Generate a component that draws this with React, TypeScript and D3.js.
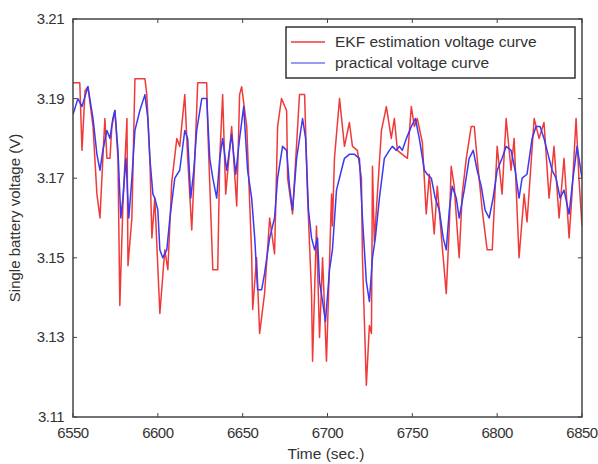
import React from "react";
import * as d3 from "d3";

// EKF estimated voltage (red)
const ekfTime = [
  6550, 6554, 6555.3, 6557.1, 6558.8, 6561.8, 6564.1, 6565.9, 6567.6, 6568.8, 6570, 6571.8, 6572.9, 6574.7,
  6576.5, 6577.6, 6579.4, 6581.8, 6582.4, 6584.7, 6586.5, 6592.4, 6593.5, 6595.3, 6596.5, 6598.2, 6601.2,
  6604.1, 6605.9, 6608.2, 6611.2, 6612.9, 6615.9, 6617.6, 6620, 6621.8, 6623.5, 6628.8, 6629.4, 6632.4,
  6635.3, 6636.5, 6638.2, 6640, 6643.5, 6646.5, 6648.2, 6649.4, 6652.4, 6655.3, 6655.9, 6658.2, 6660,
  6662.9, 6665.9, 6668.8, 6670.6, 6672.9, 6675.9, 6676.5, 6679.4, 6683.5, 6686.5, 6688.2, 6690.6, 6691.2,
  6693.5, 6695.3, 6697.1, 6699.4, 6702.4, 6702.9, 6704.1, 6707.1, 6710, 6712.9, 6714.7, 6717.6, 6720,
  6720.6, 6722.9, 6724.7, 6725.9, 6726.5, 6727.6, 6729.4, 6731.8, 6734.7, 6737.6, 6739.4, 6741.2, 6744.1,
  6747.1, 6749.4, 6751.2, 6752.9, 6755.9, 6758.2, 6760, 6762.9, 6764.7, 6767.6, 6770, 6771.8, 6772.9,
  6774.7, 6777.6, 6779.4, 6781.8, 6784.7, 6786.5, 6788.2, 6791.2, 6794.1, 6797.1, 6800, 6802.9, 6805.3,
  6808.2, 6810, 6812.9, 6815.9, 6817.6, 6821.8, 6824.7, 6827.6, 6830.6, 6833.5, 6836.5, 6839.4, 6842.4,
  6844.1, 6846.5, 6848.2, 6850,
];
const ekfVolt = [
  3.194, 3.194, 3.177, 3.192, 3.193, 3.183, 3.166, 3.16, 3.175, 3.185, 3.175, 3.175, 3.183, 3.187,
  3.175, 3.138, 3.163, 3.185, 3.148, 3.16, 3.195, 3.195, 3.191, 3.175, 3.155, 3.165, 3.136,
  3.152, 3.147, 3.169, 3.18, 3.178, 3.191, 3.175, 3.157, 3.175, 3.194, 3.194, 3.183, 3.147,
  3.147, 3.175, 3.191, 3.166, 3.183, 3.163, 3.191, 3.193, 3.183, 3.151, 3.137, 3.15, 3.131,
  3.141, 3.16, 3.151, 3.183, 3.19, 3.187, 3.17, 3.161, 3.191, 3.191, 3.166, 3.141, 3.124,
  3.158, 3.13, 3.15, 3.124, 3.166, 3.158, 3.175, 3.19, 3.178, 3.184, 3.178, 3.177, 3.17,
  3.15, 3.118, 3.133, 3.131, 3.173, 3.154, 3.166, 3.182, 3.188, 3.18, 3.185, 3.177, 3.176,
  3.175, 3.188, 3.183, 3.185, 3.179, 3.161, 3.171, 3.156, 3.168, 3.153, 3.141, 3.158, 3.173,
  3.168, 3.15, 3.166, 3.175, 3.183, 3.183, 3.175, 3.162, 3.152, 3.152, 3.178, 3.166, 3.185,
  3.172, 3.18, 3.15, 3.166, 3.159, 3.185, 3.18, 3.184, 3.165, 3.178, 3.16, 3.175, 3.155,
  3.166, 3.185, 3.17, 3.158,
];

// practical (measured) voltage (blue)
const realTime = [
  6550, 6552.9, 6555.3, 6558.8, 6561.8, 6564.1, 6565.9, 6567.6, 6570, 6571.8, 6573.5, 6574.7, 6576.5,
  6578.2, 6579.4, 6581.2, 6582.9, 6584.7, 6586.5, 6589.4, 6592.4, 6594.1, 6595.3, 6597.1, 6598.2, 6600,
  6601.2, 6602.9, 6605.3, 6607.1, 6610, 6612.9, 6615.9, 6617.6, 6619.4, 6621.2, 6622.9, 6625.9, 6628.8,
  6630.6, 6632.4, 6634.7, 6636.5, 6638.2, 6640.6, 6643.5, 6645.9, 6648.2, 6650.6, 6652.9, 6655.3, 6657.1,
  6658.8, 6661.2, 6662.9, 6665.9, 6668.8, 6670.6, 6673.5, 6675.9, 6677.6, 6679.4, 6681.8, 6685.3, 6687.1,
  6688.8, 6690.6, 6692.4, 6694.1, 6695.3, 6697.1, 6698.8, 6701.2, 6702.9, 6705.3, 6708.2, 6710, 6712.9,
  6715.9, 6718.8, 6720.6, 6722.9, 6724.7, 6726.5, 6728.2, 6730.6, 6733.5, 6736.5, 6738.2, 6740.6, 6742.4,
  6744.1, 6746.5, 6749.4, 6751.8, 6754.1, 6757.1, 6758.8, 6761.2, 6763.5, 6765.9, 6768.2, 6770, 6771.8,
  6773.5, 6775.9, 6777.6, 6780.6, 6783.5, 6785.9, 6788.2, 6790.6, 6792.9, 6795.3, 6797.6, 6800, 6802.9,
  6805.3, 6808.2, 6810.6, 6812.9, 6814.7, 6817.6, 6820.6, 6822.9, 6825.3, 6827.6, 6830, 6832.4, 6834.7,
  6837.1, 6839.4, 6842.4, 6844.7, 6847.1, 6850,
];
const realVolt = [
  3.186, 3.19, 3.188, 3.193, 3.185, 3.176, 3.172, 3.177, 3.182, 3.18, 3.185, 3.187, 3.177,
  3.16, 3.165, 3.175, 3.16, 3.17, 3.182, 3.187, 3.191, 3.185, 3.175, 3.166, 3.165, 3.162,
  3.152, 3.15, 3.152, 3.16, 3.17, 3.172, 3.182, 3.18, 3.165, 3.172, 3.182, 3.19, 3.19,
  3.175, 3.17, 3.165, 3.175, 3.18, 3.172, 3.181, 3.171, 3.18, 3.188, 3.172, 3.165, 3.155,
  3.142, 3.142, 3.146, 3.155, 3.16, 3.17, 3.178, 3.177, 3.168, 3.162, 3.175, 3.185, 3.18,
  3.162, 3.155, 3.152, 3.155, 3.144, 3.139, 3.134, 3.147, 3.152, 3.167, 3.172, 3.175, 3.176,
  3.176, 3.175, 3.16, 3.144, 3.139, 3.15, 3.155, 3.165, 3.175, 3.177, 3.178, 3.177, 3.178,
  3.177, 3.18, 3.183, 3.185, 3.18, 3.172, 3.171, 3.17, 3.165, 3.162, 3.155, 3.152, 3.162,
  3.168, 3.165, 3.16, 3.167, 3.175, 3.177, 3.172, 3.168, 3.162, 3.16, 3.165, 3.172, 3.175,
  3.178, 3.177, 3.172, 3.165, 3.17, 3.171, 3.18, 3.183, 3.183, 3.18, 3.176, 3.172, 3.17,
  3.165, 3.167, 3.161, 3.17, 3.178, 3.17,
];

const yTicks = [3.11, 3.13, 3.15, 3.17, 3.19, 3.21];
const legendLabels = ["EKF estimation voltage curve", "practical voltage curve"];

const W = 598;
const H = 464;
const M = { left: 73, right: 16, top: 19, bottom: 47 };

export default function App() {
  const x = d3.scaleLinear().domain([6550, 6850]).range([M.left, W - M.right]);
  const y = d3.scaleLinear().domain([3.11, 3.21]).range([H - M.bottom, M.top]);
  const xTicks = x.ticks(6);

  const line = d3
    .line<[number, number]>()
    .x((d) => x(d[0]))
    .y((d) => y(d[1]));

  const ekfPath = line(ekfTime.map((t, i) => [t, ekfVolt[i]]) as [number, number][]);
  const realPath = line(realTime.map((t, i) => [t, realVolt[i]]) as [number, number][]);

  const x0 = M.left, x1 = W - M.right, y0 = M.top, y1 = H - M.bottom;
  const font = "Arial, 'Liberation Sans', sans-serif";
  const axisCol = "#444";

  return (
    <svg
      width={W}
      height={H}
      style={{ position: "absolute", left: 0, top: 0, background: "#fff" }}
      fontFamily={font}
    >
      <defs>
        <clipPath id="plot">
          <rect x={x0} y={y0} width={x1 - x0} height={y1 - y0} />
        </clipPath>
      </defs>

      <g clipPath="url(#plot)" fill="none" strokeLinejoin="round">
        <path d={ekfPath ?? ""} stroke="#f03a3a" strokeWidth={1.5} />
        <path d={realPath ?? ""} stroke="#3a3af0" strokeWidth={1.5} />
      </g>

      {/* frame */}
      <rect x={x0} y={y0} width={x1 - x0} height={y1 - y0} fill="none" stroke={axisCol} strokeWidth={1.5} />

      {/* x ticks */}
      {xTicks.map((t) => (
        <g key={"x" + t}>
          <line x1={x(t)} x2={x(t)} y1={y1} y2={y1 - 4} stroke={axisCol} />
          <line x1={x(t)} x2={x(t)} y1={y0} y2={y0 + 4} stroke={axisCol} />
          <text x={x(t)} y={y1 + 21} textAnchor="middle" fontSize={15} fill="#333" letterSpacing={-0.5}>
            {t}
          </text>
        </g>
      ))}

      {/* y ticks */}
      {yTicks.map((t) => (
        <g key={"y" + t}>
          <line x1={x0} x2={x0 + 4} y1={y(t)} y2={y(t)} stroke={axisCol} />
          <line x1={x1} x2={x1 - 4} y1={y(t)} y2={y(t)} stroke={axisCol} />
          <text x={x0 - 9} y={y(t) + 5} textAnchor="end" fontSize={15} fill="#333" letterSpacing={-0.5}>
            {t.toFixed(2)}
          </text>
        </g>
      ))}

      {/* axis titles */}
      <text x={326} y={H - 5} textAnchor="middle" fontSize={15.5} fill="#333">
        Time (sec.)
      </text>
      <text
        transform={`translate(20, ${(y0 + y1) / 2}) rotate(-90)`}
        textAnchor="middle"
        fontSize={15}
        fill="#333"
      >
        Single battery voltage (V)
      </text>

      {/* legend */}
      <g>
        <rect x={286} y={27} width={289} height={51} fill="#fff" stroke="#333" strokeWidth={1.5} />
        {legendLabels.map((lab, i) => (
          <g key={lab}>
            <line
              x1={291}
              x2={325}
              y1={42 + i * 21}
              y2={42 + i * 21}
              stroke={i === 0 ? "#f03a3a" : "#7a7af0"}
              strokeWidth={1.5}
            />
            <text x={335} y={47 + i * 21} fontSize={15.5} fill="#333">
              {lab}
            </text>
          </g>
        ))}
      </g>
    </svg>
  );
}
